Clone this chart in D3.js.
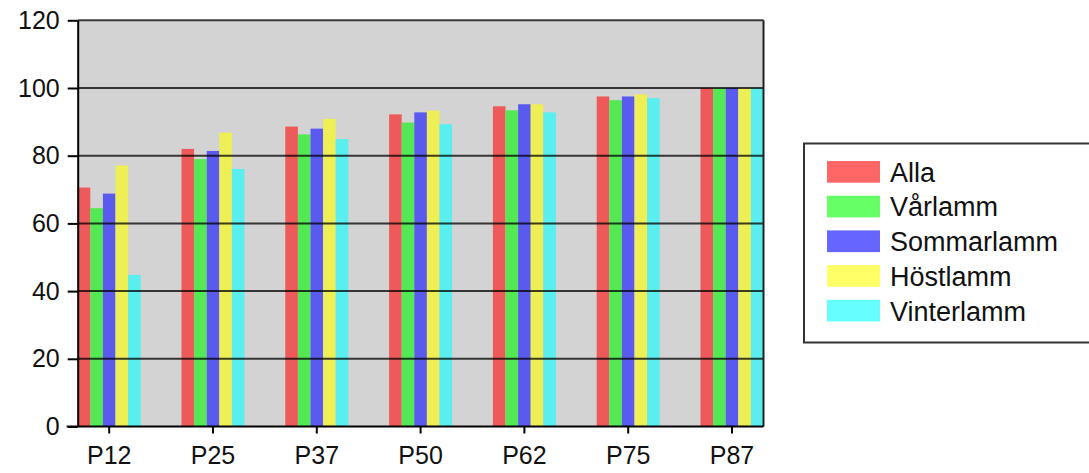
<!DOCTYPE html>
<head>
    <meta charset="utf-8">
    <style>
      body {
          margin: 0;
          background: #fff;
          font-family: 'Liberation Sans', Arial, sans-serif;
      }
      .axis text {
          font-family: 'Liberation Sans', Arial, sans-serif;
          font-size: 25px;
          fill: #111;
      }
      .axis path, .axis line {
          stroke: #000;
          stroke-width: 2px;
      }
      .grid {
          stroke: #000;
          stroke-width: 2px;
          stroke-opacity: 0.75;
      }
      .legend text {
          font-size: 27px;
          fill: #111;
      }
  </style>
</head>
<body>
<svg id="chart" width="1089" height="473"></svg>
</body>
<script src="https://cdn.jsdelivr.net/npm/d3@7"></script>
<script>
  // data
  const categories = ["P12", "P25", "P37", "P50", "P62", "P75", "P87"];
  const seriesNames = ["Alla", "Vårlamm", "Sommarlamm", "Höstlamm", "Vinterlamm"];
  const alla        = [70.6, 82.0, 88.6, 92.2, 94.6, 97.5, 100];
  const varlamm     = [64.5, 79.0, 86.3, 89.8, 93.4, 96.4, 100];
  const sommarlamm  = [68.8, 81.4, 88.0, 92.8, 95.2, 97.5, 100];
  const hostlamm    = [77.1, 86.8, 90.9, 93.3, 95.2, 98.1, 100];
  const vinterlamm  = [44.8, 76.1, 84.9, 89.3, 92.8, 97.0, 100];
  const yTicks = [0, 20, 40, 60, 80, 100, 120];

  const values = [alla, varlamm, sommarlamm, hostlamm, vinterlamm];
  const barColors = ["#ee5a5a", "#55e855", "#5a5aee", "#eeee55", "#5aeeee"];
  const keyColors = ["#ff6666", "#66ff66", "#6666ff", "#ffff66", "#66ffff"];

  var svg = d3.select("#chart");
  var plotLeft = 77.7, plotRight = 763.5, plotTop = 20.3, plotBottom = 426.5;

  var x = d3.scaleBand()
      .domain(categories)
      .range([plotLeft, plotRight])
      .paddingInner(0.393)
      .paddingOuter(0);
  var x1 = d3.scaleBand()
      .domain(seriesNames)
      .range([0, x.bandwidth()]);
  var y = d3.scaleLinear()
      .domain([0, 120])
      .range([plotBottom, plotTop]);

  // plot background
  svg.append("rect")
      .attr("x", plotLeft).attr("y", plotTop)
      .attr("width", plotRight - plotLeft).attr("height", plotBottom - plotTop)
      .attr("fill", "#d3d3d3");

  // bars
  var groups = svg.append("g").selectAll("g")
      .data(categories)
      .join("g")
      .attr("transform", function(d) { return "translate(" + x(d) + ",0)"; });
  groups.selectAll("rect")
      .data(function(d, i) { return seriesNames.map(function(s, j) { return { s: s, j: j, v: values[j][i] }; }); })
      .join("rect")
      .attr("x", function(d) { return x1(d.s); })
      .attr("y", function(d) { return y(d.v); })
      .attr("width", x1.bandwidth())
      .attr("height", function(d) { return y(0) - y(d.v); })
      .attr("fill", function(d) { return barColors[d.j]; });

  // gridlines on top of the bars
  svg.append("g").selectAll("line")
      .data(yTicks.filter(function(t) { return t > 0; }))
      .join("line")
      .attr("class", "grid")
      .attr("x1", plotLeft).attr("x2", plotRight)
      .attr("y1", function(d) { return y(d); })
      .attr("y2", function(d) { return y(d); });

  // right border
  svg.append("line")
      .attr("x1", plotRight).attr("x2", plotRight)
      .attr("y1", plotTop).attr("y2", plotBottom)
      .attr("stroke", "#222").attr("stroke-width", 2);

  // axes
  svg.append("g")
      .attr("class", "axis")
      .attr("transform", "translate(" + plotLeft + ",0)")
      .call(d3.axisLeft(y).tickValues(yTicks).tickSize(10).tickPadding(8).tickSizeOuter(0));
  svg.append("g")
      .attr("class", "axis")
      .attr("transform", "translate(0," + plotBottom + ")")
      .call(d3.axisBottom(x).tickSize(7).tickPadding(13).tickSizeOuter(0))
      .call(function(g) { g.select(".domain").attr("d", "M" + (plotLeft - 11) + ",0H" + plotRight); });

  // legend
  var legend = svg.append("g").attr("class", "legend");
  legend.append("rect")
      .attr("x", 804).attr("y", 143.5)
      .attr("width", 300).attr("height", 199)
      .attr("fill", "#fff")
      .attr("stroke", "#333").attr("stroke-width", 2);
  var items = legend.selectAll("g.item")
      .data(seriesNames)
      .join("g")
      .attr("class", "item")
      .attr("transform", function(d, i) { return "translate(827," + (161 + i * 34.7) + ")"; });
  items.append("rect")
      .attr("width", 53).attr("height", 21.7)
      .attr("fill", function(d, i) { return keyColors[i]; });
  items.append("text")
      .attr("x", 63).attr("y", 11)
      .attr("dy", "0.36em")
      .text(function(d) { return d; });
</script>
